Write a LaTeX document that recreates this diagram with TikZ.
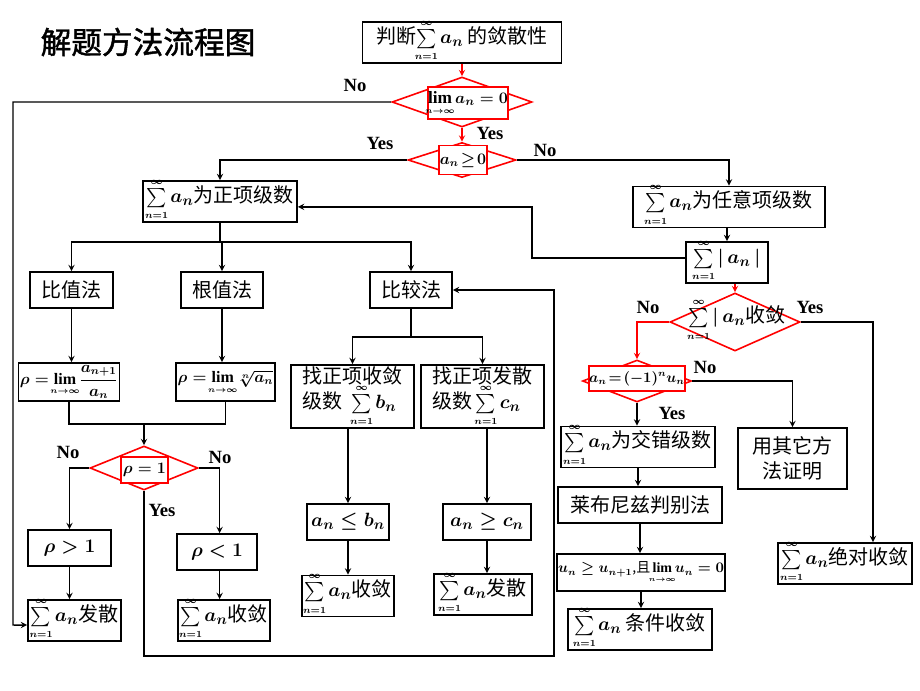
\documentclass[tikz,border=0pt]{standalone}
\usepackage{fontspec}
\usepackage{amsmath}
\usepackage{mathtools}
\setmainfont{Liberation Serif}
\newfontfamily\cjk{Noto Sans CJK SC}
\newfontfamily\cjktitle[FakeBold=1.5]{Noto Sans CJK SC}
\usetikzlibrary{shapes.geometric}
\tikzset{
    basic/.style={
        draw,
        rectangle,
        line width=1.3pt,
        inner sep=1pt,
        align=center,
        font=\cjk\fontsize{15}{19}\selectfont\boldmath
    },
    wh/.style 2 args={minimum width=#1*0.75pt, minimum height=#2*0.75pt},
    cond/.style={draw=red, diamond, line width=1.2pt, inner sep=0pt},
    condbox/.style={draw=red, fill=white, line width=1.2pt, inner sep=0pt,
        font=\cjk\fontsize{13}{15}\selectfont\boldmath},
    condtext/.style={inner sep=0pt, font=\cjk\fontsize{15}{18}\selectfont\boldmath},
    yesno/.style={font=\bfseries\fontsize{14}{16}\selectfont},
    flow/.style={line width=1.1pt, ->},
    redflow/.style={draw=red, line width=1.1pt, ->}
}
\newcommand{\sumn}{\sum\limits_{\mathclap{\smash{\scriptscriptstyle n=1}}}^{\mathclap{\smash{\scriptscriptstyle\infty}}}}
\newcommand{\limn}{\lim\limits_{\mathclap{\smash{\scriptscriptstyle n\to\infty}}}}

\begin{document}
\begin{tikzpicture}[x=0.75pt, y=-0.75pt, >=stealth]
    \useasboundingbox (0,0) rectangle (920,690);

    \node[font=\cjktitle\fontsize{23}{28}\selectfont] (Title) at (148,42) {解题方法流程图};

    \node[basic, wh={199}{39}] (Judge) at (462,42.5) {判断$\sumn a_n$ 的敛散性};

    \node[cond, wh={140}{50}] (D1) at (462,102) {};
    \node[condbox, wh={79}{32}] (D1t) at (468,103) {$\limn a_n=0$};
    \node[cond, wh={108}{35}] (D2) at (462,160) {};
    \node[condbox, wh={48}{29}, font=\fontsize{12}{14}\selectfont\boldmath] (D2t) at (463,160) {$a_n\!\ge\!0$};

    \node[basic, wh={154}{37}] (PosSer) at (220,201.5) {$\sumn a_n$为正项级数};
    \node[basic, wh={83}{36}] (Ratio) at (71.5,290) {比值法};
    \node[basic, wh={82}{36}] (Root) at (222,290) {根值法};
    \node[basic, wh={82}{36}] (Compare) at (411,290) {比较法};
    \node[basic, wh={86}{38}, font=\fontsize{12}{14}\selectfont\boldmath] (RatioF) at (69,382)
        {$\rho=\limn\dfrac{a_{n+1}}{a_n}$};
    \node[basic, wh={87}{38}, font=\fontsize{12}{14}\selectfont\boldmath] (RootF) at (225.5,382)
        {$\rho=\limn\sqrt[n]{a_n}$};

    \coordinate (SplitA) at (220,242);
    \coordinate (Merge) at (144,424);
    \coordinate (SplitB) at (411,337);

    \node[cond, wh={108}{44}] (D3) at (144,468) {};
    \node[condbox, wh={47}{26}] (D3t) at (144.5,470) {$\rho=1$};
    \node[basic, wh={83}{36}] (Gt) at (69.5,548) {$\rho>1$};
    \node[basic, wh={80}{36}] (Lt) at (217,552) {$\rho<1$};
    \node[basic, wh={93}{37}] (Div1) at (74.5,620.5) {$\sumn a_n$发散};
    \node[basic, wh={92}{37}] (Conv1) at (224,620.5) {$\sumn a_n$收敛};

    \node[basic, wh={123}{61}, align=left] (FindConv) at (352.5,396.5)
        {找正项收敛\\级数\ \ $\sumn b_n$};
    \node[basic, wh={123}{61}, align=left] (FindDiv) at (482.5,396.5)
        {找正项发散\\级数\,$\sumn c_n$};
    \node[basic, wh={82}{36}] (Le) at (348,522) {$a_n\le b_n$};
    \node[basic, wh={88}{36}] (Ge) at (487,522) {$a_n\ge c_n$};
    \node[basic, wh={92}{36}] (Conv2) at (348,596) {$\sumn a_n$收敛};
    \node[basic, wh={98}{37}] (Div2) at (483,594.5) {$\sumn a_n$发散};

    \node[basic, wh={192}{36}] (AnySer) at (729,207) {$\sumn a_n$为任意项级数};
    \node[basic, wh={82}{37}] (AbsSum) at (727,262.5) {$\sumn|\,a_n\,|$};
    \node[cond, wh={130}{58}] (D4) at (735,322) {};
    \node[condtext] (D4t) at (737,322) {$\sumn|\,a_n$收敛};
    \node[cond, wh={109}{42}] (D5) at (637,381) {};
    \node[condbox, wh={82}{25}, font=\fontsize{10.5}{13}\selectfont\boldmath] (D5t) at (637,378.5)
        {$a_n\!=\!(-1)^n u_n$};
    \node[basic, wh={154}{36}] (AltSer) at (638,447) {$\sumn a_n$为交错级数};
    \node[basic, wh={109}{61}] (Other) at (792.5,458.5) {用其它方\\法证明};
    \node[basic, wh={164}{36}] (Leibniz) at (640,505) {莱布尼兹判别法};
    \node[basic, wh={160}{37}, font=\cjk\fontsize{10.5}{14}\selectfont\boldmath] (CondBox) at (641,572.5)
        {$u_n\ge u_{n+1}$,且\,$\limn u_n=0$};
    \node[basic, wh={144}{37}] (CondConv) at (640,629.5) {$\sumn a_n$ 条件收敛};
    \node[basic, wh={134}{37}] (AbsConv) at (845,563.5) {$\sumn a_n$绝对收敛};

    \node[yesno] (NoA) at (355,85) {No};
    \node[yesno] (YesA) at (490,133) {Yes};
    \node[yesno] (YesB) at (380,143) {Yes};
    \node[yesno] (NoB) at (545,150) {No};
    \node[yesno] (NoC) at (68,452) {No};
    \node[yesno] (NoD) at (220,457) {No};
    \node[yesno] (YesC) at (162,510) {Yes};
    \node[yesno] (NoE) at (648,307) {No};
    \node[yesno] (YesD) at (810,307) {Yes};
    \node[yesno] (NoF) at (705,367) {No};
    \node[yesno] (YesE) at (672,413) {Yes};

    \draw[redflow] (Judge.south) -- (D1.north);
    \draw[redflow] (D1.south) -- (D2.north);
    \draw[flow] (D1.west) -| (13,625) -- ([yshift=-3.4pt]Div1.west);
    \draw[flow] (D2.west) -| (PosSer.north);
    \draw[flow] (D2.east) -| (AnySer.north);

    \draw[line width=1.1pt] (PosSer.south) -- (SplitA);
    \draw[flow] (SplitA) -| (Ratio.north);
    \draw[flow] (SplitA) -| (Compare.north);
    \draw[flow] (SplitA) -- (SplitA -| Root.north) -- (Root.north);
    \draw[flow] (Ratio.south) -- (Ratio.south |- RatioF.north);
    \draw[flow] (Root.south) -- (Root.south |- RootF.north);
    \draw[line width=1.1pt] (RatioF.south) |- (Merge) -| (RootF.south);
    \draw[flow] (Merge) -- (D3.north);
    \draw[flow] (D3.west) -| (Gt.north);
    \draw[flow] (D3.east) -| ([xshift=2pt]Lt.north);
    \draw[flow] (Gt.south) -- (Gt.south |- Div1.north);
    \draw[flow] ([xshift=2pt]Lt.south) -- ([xshift=2pt]Lt.south |- Conv1.north);
    \draw[flow] (D3.south) |- (554,656) |- (Compare.east);

    \draw[line width=1.1pt] (Compare.south) -- (SplitB);
    \draw[flow] (SplitB) -| (FindConv.north);
    \draw[flow] (SplitB) -| (FindDiv.north);
    \draw[flow] (Le.north |- FindConv.south) -- (Le.north);
    \draw[flow] (Ge.north |- FindDiv.south) -- (Ge.north);
    \draw[flow] (Le.south) -- (Le.south |- Conv2.north);
    \draw[flow] (Ge.south) -- (Ge.south |- Div2.north);

    \draw[flow] (AbsSum.north |- AnySer.south) -- (AbsSum.north);
    \draw[flow] ([yshift=3.4pt]AbsSum.west) -- ++(-153,0) |- ([yshift=-4pt]PosSer.east);
    \draw[redflow] (D4.north |- AbsSum.south) -- (D4.north);
    \draw[redflow] (D4.west) -| (D5.north);
    \draw[flow] (D4.east) -| ([xshift=21pt]AbsConv.north);
    \draw[flow] (D5.east) -| (Other.north);
    \draw[flow] (D5.south) -- (D5.south |- AltSer.north);
    \draw[flow] (AltSer.south) -- (AltSer.south |- Leibniz.north);
    \draw[flow] (Leibniz.south) -- (Leibniz.south |- CondBox.north);
    \draw[flow] (CondBox.south) -- (CondBox.south |- CondConv.north);
\end{tikzpicture}
\end{document}
